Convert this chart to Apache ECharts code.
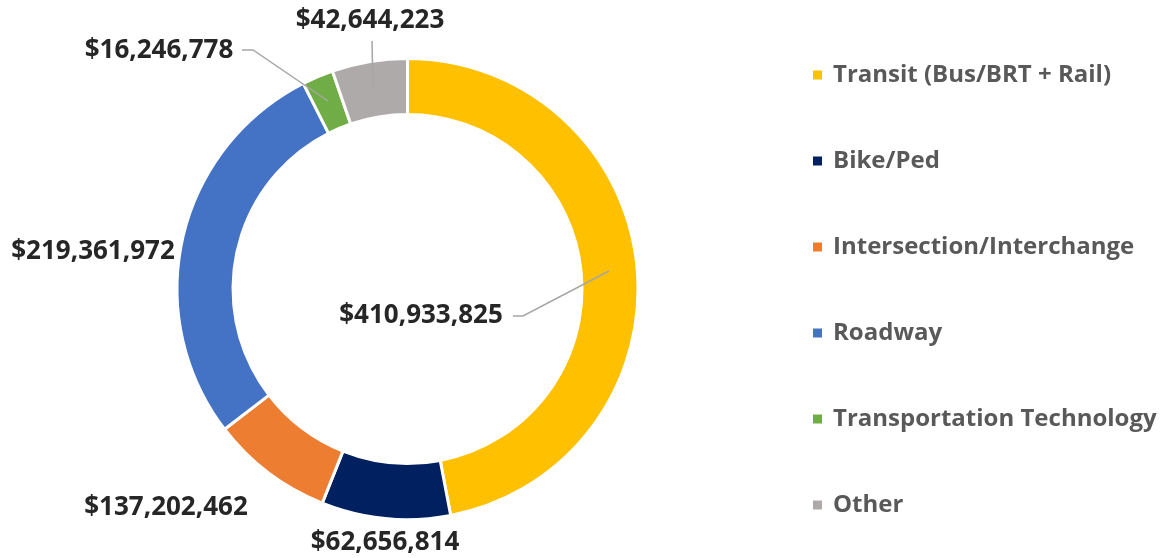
<!DOCTYPE html>
<html>
<head>
<meta charset="utf-8">
<script src="https://cdn.jsdelivr.net/npm/echarts@6/dist/echarts.min.js"></script>
<style>
  html, body { margin: 0; padding: 0; background: #fff; }
  #pie { width: 1164px; height: 558px; }
</style>
</head>
<body>
<div id="pie"></div>
<script>
// categories, in drawing order (clockwise from 12 o'clock)
const categories = [
  "Transit (Bus/BRT + Rail)",
  "Bike/Ped",
  "Intersection/Interchange",
  "Roadway",
  "Transportation Technology",
  "Other",
];
// slice shares (%) as drawn in the picture
const shares = [47.0, 9.03, 8.56, 27.94, 2.19, 5.28];
// dollar amounts shown in the labels
const amounts = [410933825, 62656814, 137202462, 219361972, 16246778, 42644223];
const colors = ["#FFC000", "#002060", "#ED7D31", "#4472C4", "#70AD47", "#AEAAAA"];

// where each label sits, plus leader line points (if any)
const labelSpots = [
  { x: 421, y: 316, line: [[513, 316], [523, 316], [609, 271]] },
  { x: 385, y: 543 },
  { x: 166, y: 508 },
  { x: 93, y: 252 },
  { x: 159, y: 51, line: [[242, 50], [253, 50], [328, 101]] },
  { x: 370, y: 21, line: [[372, 41], [372, 41], [373, 89]] },
];

const fontFam = "'Open Sans', Lato, sans-serif";

let myChart = echarts.init(document.getElementById("pie"));

// the ring itself (no labels)
let ringData = categories.map((name, i) => {
  return { name: name, value: shares[i], itemStyle: { color: colors[i] } };
});
// same slices again, invisible, only to draw labels + leader lines on top
let labelData = categories.map((name, i) => {
  return {
    name: name,
    value: shares[i],
    labelLine: { show: !!labelSpots[i].line },
  };
});

const pieBase = {
  type: "pie",
  center: [407.5, 289],
  radius: [174.5, 230.5],
  startAngle: 90,
  clockwise: true,
  avoidLabelOverlap: false,
  emphasis: { disabled: true },
};

myChart.setOption({
  animation: false,
  legend: {
    orient: "vertical",
    left: 811,
    top: 58,
    padding: 0,
    icon: "rect",
    itemWidth: 11,
    itemHeight: 11,
    itemGap: 52,
    data: categories.map((name, i) => ({ name: name, itemStyle: { color: colors[i] } })),
    textStyle: {
      fontFamily: fontFam,
      fontWeight: "bold",
      fontSize: 24,
      lineHeight: 34,
      color: "#595959",
      padding: [0, 0, 0, 5],
    },
  },
  series: [
    Object.assign({}, pieBase, {
      z: 2,
      itemStyle: { borderColor: "#fff", borderWidth: 3 },
      label: { show: false },
      labelLine: { show: false },
      data: ringData,
    }),
    Object.assign({}, pieBase, {
      z: 5,
      silent: true,
      itemStyle: { color: "rgba(0,0,0,0)", borderWidth: 0 },
      label: {
        show: true,
        position: "outside",
        formatter: (p) => "$" + amounts[p.dataIndex].toLocaleString("en-US"),
        fontFamily: fontFam,
        fontWeight: "bold",
        fontSize: 26,
        color: "#262626",
      },
      labelLine: {
        show: true,
        lineStyle: { color: "#A6A6A6", width: 1.5 },
      },
      labelLayout: (params) => {
        let spot = labelSpots[params.dataIndex];
        let out = {
          x: spot.x,
          y: spot.y,
          align: "center",
          verticalAlign: "middle",
        };
        if (spot.line) out.labelLinePoints = spot.line;
        return out;
      },
      data: labelData,
    }),
  ],
});
</script>
</body>
</html>
